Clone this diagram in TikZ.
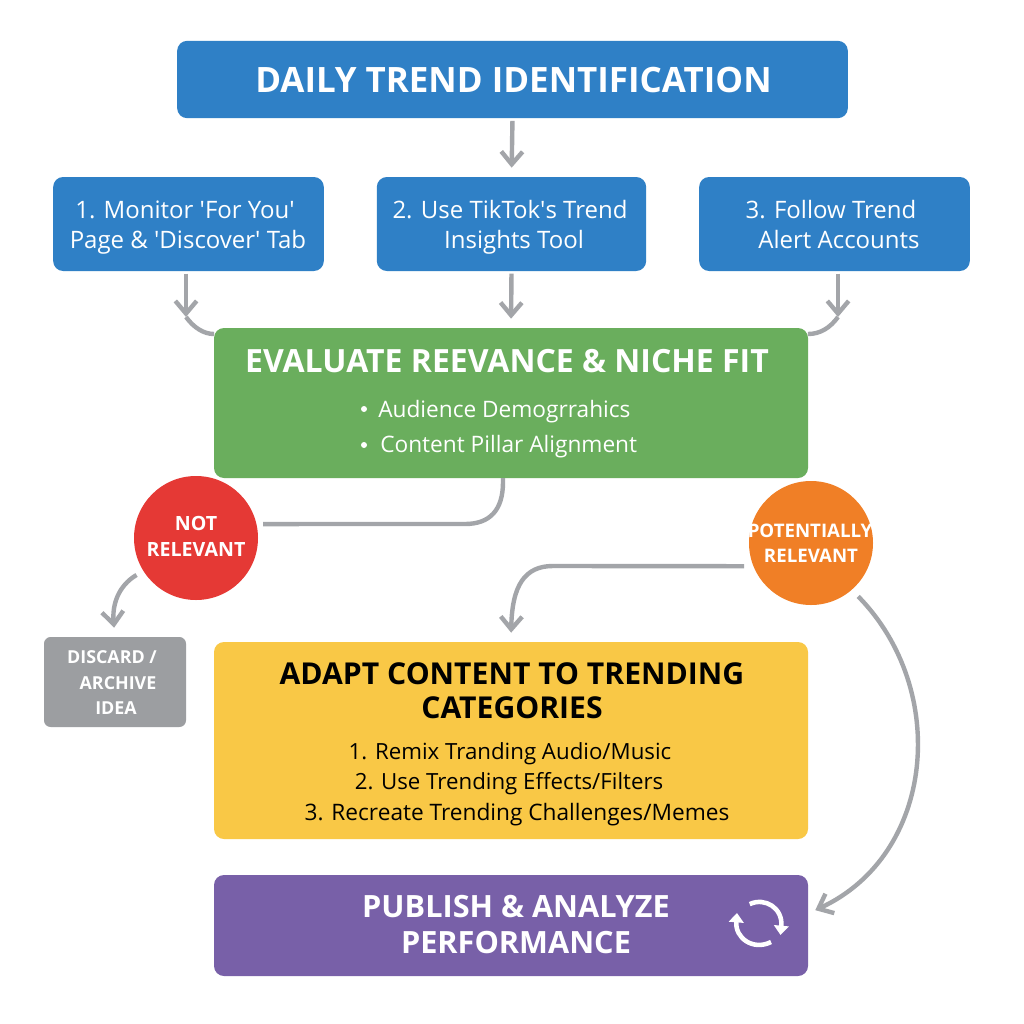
\documentclass[tikz,border=0pt]{standalone}
\usepackage{fontspec}
\setmainfont{Open Sans}
\usetikzlibrary{arrows.meta,calc}
\definecolor{cblue}{HTML}{2F80C6}
\definecolor{cgreen}{HTML}{6AAE5D}
\definecolor{cred}{HTML}{E53935}
\definecolor{corange}{HTML}{F07F26}
\definecolor{cyellow}{HTML}{F9C846}
\definecolor{cpurple}{HTML}{7860A8}
\definecolor{cgray}{HTML}{9C9EA1}
\definecolor{cline}{HTML}{A3A5A9}
\newcommand{\fs}[1]{\fontsize{#1}{#1}\selectfont}
\newcommand{\sq}{\XeTeXglyph\XeTeXcharglyph"27 }
\tikzset{
 x=0.75pt,y=-0.75pt,
 panel/.style={draw=none,rounded corners=7.5pt,inner sep=0pt,outer sep=0pt},
 disc/.style={circle,draw=none,inner sep=0pt,outer sep=0pt,minimum size=93pt},
 wtxt/.style={text=white,align=center,inner sep=0pt},
 ktxt/.style={text=black,align=center,inner sep=0pt},
 lbl/.style={anchor=base,inner sep=0pt},
 conn/.style={draw=cline,line width=3.3pt},
 arr/.style={conn,-{Straight Barb[length=9.5pt,width=16pt,line width=3.3pt]}},
 syncarc/.style={draw=white,line width=3.4pt,-{Triangle[length=7pt,width=11pt]}},
}
\begin{document}
\begin{tikzpicture}
\useasboundingbox (0,0) rectangle (1024,1024);
\fill[white] (0,0) rectangle (1024,1024);
% panels
\node[panel,fill=cblue,minimum width=503pt,minimum height=58pt] (title) at (512.5,79.5) {};
\node[panel,fill=cblue,minimum width=203pt,minimum height=70.5pt] (b1) at (188.5,224) {};
\node[panel,fill=cblue,minimum width=202pt,minimum height=70.5pt] (b2) at (511.5,224) {};
\node[panel,fill=cblue,minimum width=203pt,minimum height=70.5pt] (b3) at (834.5,224) {};
\node[panel,fill=cgreen,minimum width=445.5pt,minimum height=112.5pt] (green) at (511,403) {};
\node[disc,fill=cred] (red) at (196,538) {};
\node[disc,fill=corange] (orange) at (811,543) {};
\node[panel,fill=cgray,rounded corners=5pt,minimum width=106.5pt,minimum height=67.5pt] (gray) at (115,682) {};
\node[panel,fill=cyellow,minimum width=445.5pt,minimum height=147.75pt] (yellow) at (511,740.5) {};
\node[panel,fill=cpurple,minimum width=445.5pt,minimum height=75.75pt] (purple) at (511,925.5) {};
% texts
\node[wtxt,font=\bfseries\fs{26.2}] (ttitle) at (513.5,80) {DAILY TREND IDENTIFICATION};
\node[wtxt,lbl,font=\fs{18}] (t1a) at (185,218) {1. Monitor \sq For You\sq};
\node[wtxt,lbl,font=\fs{18}] (t1b) at (188,248) {Page \& \sq Discover\sq{} Tab};
\node[wtxt,lbl,font=\fs{18}] (t2a) at (510,218) {2. Use TikTok\sq s Trend};
\node[wtxt,lbl,font=\fs{18}] (t2b) at (514,248) {Insights Tool};
\node[wtxt,lbl,font=\fs{18}] (t3a) at (831,218) {3. Follow Trend};
\node[wtxt,lbl,font=\fs{18}] (t3b) at (839,248) {Alert Accounts};
\node[wtxt,font=\bfseries\fs{24}] (tgreen) at (507,361) {EVALUATE REEVANCE \& NICHE FIT};
\node[circle,fill=white,inner sep=0pt,minimum size=4.5pt] (d1) at (364,409) {};
\node[circle,fill=white,inner sep=0pt,minimum size=4.5pt] (d2) at (364,445) {};
\node[wtxt,anchor=base west,font=\fs{17}] (tb1) at (378,417) {Audience Demogrrahics};
\node[wtxt,anchor=base west,font=\fs{17}] (tb2) at (380,452) {Content Pillar Alignment};
\node[wtxt,font=\bfseries\fs{14.7}] (tred1) at (196,523) {NOT};
\node[wtxt,font=\bfseries\fs{14.7}] (tred2) at (196,549) {RELEVANT};
\node[wtxt,font=\bfseries\fs{14}] (tor1) at (810,531) {POTENTIALLY};
\node[wtxt,font=\bfseries\fs{14}] (tor2) at (811,556) {RELEVANT};
\node[wtxt,font=\bfseries\fs{13.4}] (tg1) at (112,657) {DISCARD /};
\node[wtxt,font=\bfseries\fs{13.4}] (tg2) at (118,683) {ARCHIVE};
\node[wtxt,font=\bfseries\fs{13.4}] (tg3) at (116,708) {IDEA};
\node[ktxt,font=\bfseries\fs{22.6}] (tyellow) at (512,691) {ADAPT CONTENT TO TRENDING\\[3pt]CATEGORIES};
\node[ktxt,lbl,font=\fs{16.7}] (ty1) at (510,759) {1. Remix Tranding Audio/Music};
\node[ktxt,lbl,font=\fs{16.7}] (ty2) at (509,789) {2. Use Trending Effects/Filters};
\node[ktxt,lbl,font=\fs{17}] (ty3) at (517,820) {3. Recreate Trending Challenges/Memes};
\node[wtxt,font=\bfseries\fs{23}] (tpurple) at (516,925) {PUBLISH \& ANALYZE\\[4pt]PERFORMANCE};
% sync icon
\draw[syncarc] (749.7,904.1) .. controls (765,897) and (783,908) .. (780.5,935);
\draw[syncarc] (771,942) .. controls (753,951) and (735,938) .. (737,913);
% connectors
\draw[arr,shorten <=2pt,shorten >=7pt] (title.south) -- (b2.north);
\draw[arr,shorten <=2pt,shorten >=7pt] (b2.south) -- (green.north);
\coordinate (m1) at (186,317);
\coordinate (m3) at (838,317);
\draw[arr,shorten <=2pt] (b1.south -| m1) -- (m1);
\draw[arr,shorten <=2pt] (b3.south -| m3) -- (m3);
\draw[conn] (m1) .. controls (194,328) and (204,334) .. (green.north west |- 0,334);
\draw[conn] (m3) .. controls (830,328) and (820,334) .. (green.north east |- 0,334);
\draw[conn,shorten >=5pt] (503,478) -- (503,482) .. controls (503,510) and (490,524) .. (465,524) -- (red.13);
\draw[arr,shorten <=6pt,shorten >=7pt] (red.212) .. controls (118,586) and (112,605) .. (gray.north);
\draw[arr,shorten <=7pt,shorten >=7pt] (orange.202) -- (553,566) .. controls (525,566) and (512,585) .. (yellow.north);
\draw[arr,shorten <=7pt,shorten >=6pt] (orange.-49) .. controls (950,690) and (935,855) .. ([yshift=9pt]purple.east);
\end{tikzpicture}
\end{document}
